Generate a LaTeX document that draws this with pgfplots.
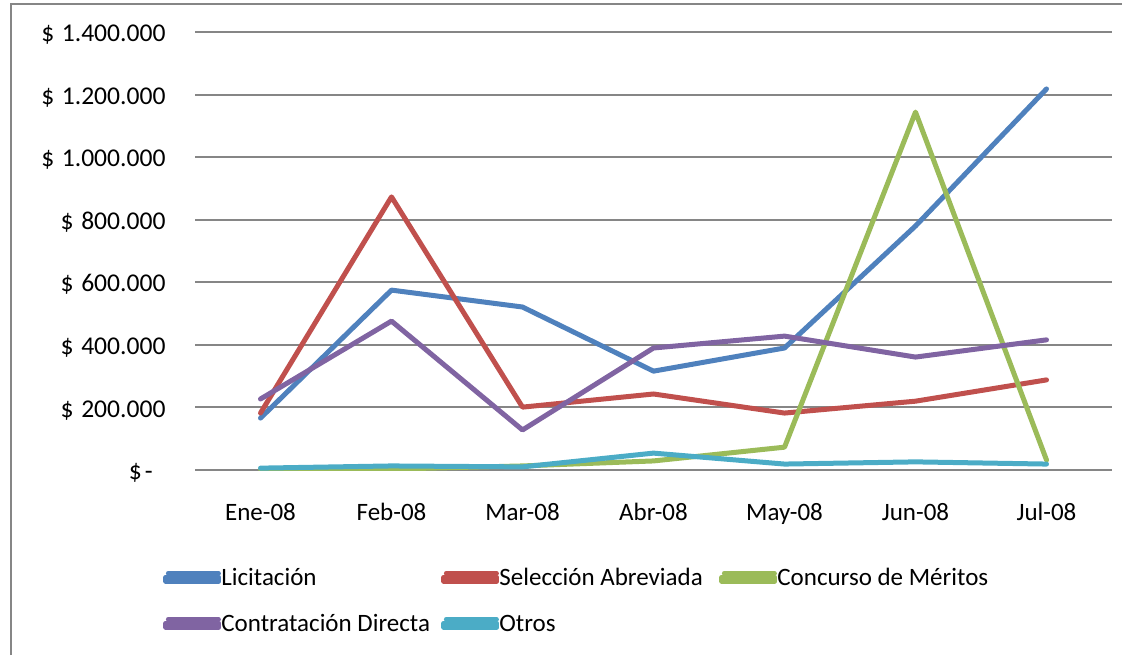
\documentclass[border=0pt]{standalone}
\usepackage{pgfplots}
\pgfplotsset{compat=1.18}
\usepackage{fontspec}
\setmainfont{Carlito}

\definecolor{cLic}{HTML}{4F81BD}
\definecolor{cSel}{HTML}{C0504D}
\definecolor{cCon}{HTML}{9BBB59}
\definecolor{cDir}{HTML}{8064A2}
\definecolor{cOtr}{HTML}{4BACC6}
\definecolor{cGrid}{HTML}{868686}

\newcommand{\ds}{\$\hspace{3.8pt}}

\begin{document}
\begin{tikzpicture}
% 1 px of the reference = 0.5pt
\useasboundingbox (0,0) rectangle (561pt,327.5pt);
\draw[cGrid, line width=1pt] (5.5pt,0) -- (5.5pt,325.5pt) -- (561pt,325.5pt);

\begin{axis}[
    at={(97.5pt,92.5pt)}, anchor=south west,
    scale only axis,
    width=458.5pt, height=219pt,
    xmin=-0.5, xmax=6.5,
    ymin=0, ymax=1400000,
    xtick={0,...,6},
    xticklabels={Ene-08,Feb-08,Mar-08,Abr-08,May-08,Jun-08,Jul-08},
    ytick={0,200000,...,1400000},
    yticklabels={{\$\hspace{1.5pt}-\rule{6.5pt}{0pt}},\ds 200.000,\ds 400.000,\ds 600.000,\ds 800.000,\ds 1.000.000,\ds 1.200.000,\ds 1.400.000},
    scaled y ticks=false,
    ymajorgrids,
    grid style={cGrid, line width=1pt},
    axis line style={draw=none},
    tick style={draw=none},
    xticklabel style={font=\fontsize{12.5}{15}\selectfont, anchor=base, inner sep=0pt, yshift=-25pt},
    yticklabel style={font=\fontsize{12.8}{15}\selectfont, anchor=base east, inner sep=0pt, xshift=-14.5pt, yshift=-4.8pt},
    legend columns=3,
    legend style={
        at={(-0.0349,-0.3014)}, anchor=west,
        draw=none, fill=none, inner sep=0pt,
        column sep=0pt, row sep=11pt,
        font=\fontsize{12.5}{15}\selectfont,
        nodes={inner sep=0pt, text height=9pt, text depth=3pt},
    },
    legend image code/.code={
        \path (0pt,-1pt) rectangle (26.5pt,1pt);
        \draw[#1, line width=2.5pt, line cap=round] (1.25pt,3pt) -- (26.25pt,3pt);
    },
    every axis plot/.append style={line width=2.5pt, line cap=round, line join=round, mark=none},
]
\addplot[cLic] coordinates {(0,166000) (1,575000) (2,521000) (3,316000) (4,390000) (5,780000) (6,1218000)};
\addlegendentry{\makebox[110pt][l]{Licitación}}
\addplot[cSel] coordinates {(0,182000) (1,873000) (2,201000) (3,243000) (4,182000) (5,220000) (6,288000)};
\addlegendentry{\makebox[110pt][l]{Selección Abreviada}}
\addplot[cCon] coordinates {(0,2000) (1,3000) (2,13000) (3,29000) (4,73000) (5,1144000) (6,32000)};
\addlegendentry{\makebox[110pt][l]{Concurso de Méritos}}
\addplot[cDir] coordinates {(0,227000) (1,476000) (2,128000) (3,390000) (4,428000) (5,361000) (6,416000)};
\addlegendentry{\makebox[110pt][l]{Contratación Directa}}
\addplot[cOtr] coordinates {(0,6000) (1,13000) (2,10000) (3,54000) (4,19000) (5,26000) (6,19000)};
\addlegendentry{\makebox[110pt][l]{Otros}}
\end{axis}
\end{tikzpicture}
\end{document}
